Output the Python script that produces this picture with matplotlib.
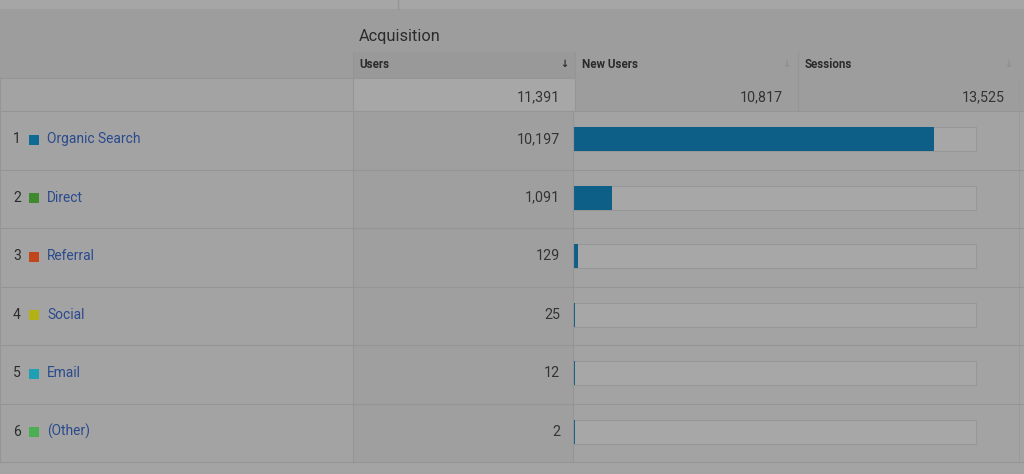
import numpy as np
import matplotlib
matplotlib.use("Agg")
import matplotlib.pyplot as plt
from matplotlib.patches import Rectangle

plt.rcParams['font.family'] = ['Roboto', 'DejaVu Sans']

# Table data
channels = ['Organic Search', 'Direct', 'Referral', 'Social', 'Email', '(Other)']
users = [10197, 1091, 129, 25, 12, 2]
swatch_colors = ['#0f6a94', '#3f8a2c', '#c2461c', '#b3b214', '#1f9fb2', '#4cae52']
column_names = ['Users', 'New Users', 'Sessions']
totals = ['11,391', '10,817', '13,525']
total_users = 11391

W, H = 1024, 474
fig = plt.figure(figsize=(W / 100, H / 100), dpi=100)
fig.patch.set_facecolor('#a0a0a0')
ax = fig.add_axes([0, 0, 1, 1])
ax.set_xlim(0, W)
ax.set_ylim(H, 0)
ax.axis('off')

line_c = '#959595'
text_c = '#2b2b2b'
num_c = '#333333'
link_c = '#2a4a8e'

# backgrounds
ax.add_patch(Rectangle((0, 0), W, 9, color='#a6a6a6', lw=0))
ax.plot([398, 398], [0, 9], color=line_c, lw=1)
ax.add_patch(Rectangle((0, 9), W, 102, color='#9d9d9d', lw=0))
ax.add_patch(Rectangle((353, 52), 222, 26, color='#999999', lw=0))
ax.add_patch(Rectangle((0, 78), 575, 33, color='#a3a3a3', lw=0))
ax.add_patch(Rectangle((353, 78), 222, 33, color='#a7a7a7', lw=0))
ax.add_patch(Rectangle((0, 111), W, 351, color='#a3a3a3', lw=0))
ax.add_patch(Rectangle((353, 111), 220, 351, color='#9f9f9f', lw=0))
ax.add_patch(Rectangle((0, 462), W, 12, color='#a4a4a4', lw=0))

# header texts
ax.text(359, 36, 'Acquisition', fontsize=11.8, color=text_c, va='center', ha='left')
col_x = [359, 582, 805]
arrow_x = [564, 786, 1008]
val_x = [560, 783, 1005]
for i, name in enumerate(column_names):
    ax.text(col_x[i], 64, name, fontsize=8.4, fontweight='bold', color=text_c, va='center')
    ax.text(arrow_x[i], 64, '\u2193', fontsize=7, color=text_c if i == 0 else '#8e8e8e',
            va='center', ha='center', fontweight='bold')
    ax.text(val_x[i], 97, totals[i], fontsize=10.3, color=num_c, va='center', ha='right')

# grid lines
for x in [353, 575, 798]:
    ax.plot([x, x], [52, 111], color=line_c, lw=0.8)
ax.plot([353, 353], [111, 462], color=line_c, lw=0.8)
ax.plot([573, 573], [111, 462], color=line_c, lw=0.8)
ax.plot([1019, 1019], [78, 462], color='#999999', lw=0.6)
ax.plot([0, 575], [78, 78], color=line_c, lw=0.8)
ax.plot([0, 0], [78, 462], color=line_c, lw=0.8)

row_top = 111
row_h = 58.5
track_l, track_w, bar_h = 573, 403, 24
for i, ch in enumerate(channels):
    yc = row_top + row_h * i + row_h / 2 - 1
    ax.plot([0, W], [row_top + row_h * i, row_top + row_h * i], color=line_c, lw=0.8)
    ax.text(13, yc, str(i + 1), fontsize=10, color=text_c, va='center', ha='left')
    ax.add_patch(Rectangle((29, yc - 4.5), 10, 10, color=swatch_colors[i], lw=0))
    ax.text(47, yc, ch, fontsize=9.9, color=link_c, va='center', ha='left')
    ax.text(560, yc, f'{users[i]:,}', fontsize=10.3, color=num_c, va='center', ha='right')
    ax.add_patch(Rectangle((track_l, yc - bar_h / 2), track_w, bar_h,
                           facecolor='#a7a7a7', edgecolor='#979797', lw=0.8))

# bars scaled to share of total users
ys = [row_top + row_h * i + row_h / 2 - 1 for i in range(len(channels))]
widths = np.array(users) / total_users * track_w
widths = np.maximum(widths, 1.5)
ax.barh(ys, widths, height=bar_h, left=track_l, color='#0e5f88', edgecolor='none')
ax.plot([0, W], [462, 462], color=line_c, lw=0.8)

fig.savefig('out.png', dpi=100, facecolor=fig.get_facecolor())
